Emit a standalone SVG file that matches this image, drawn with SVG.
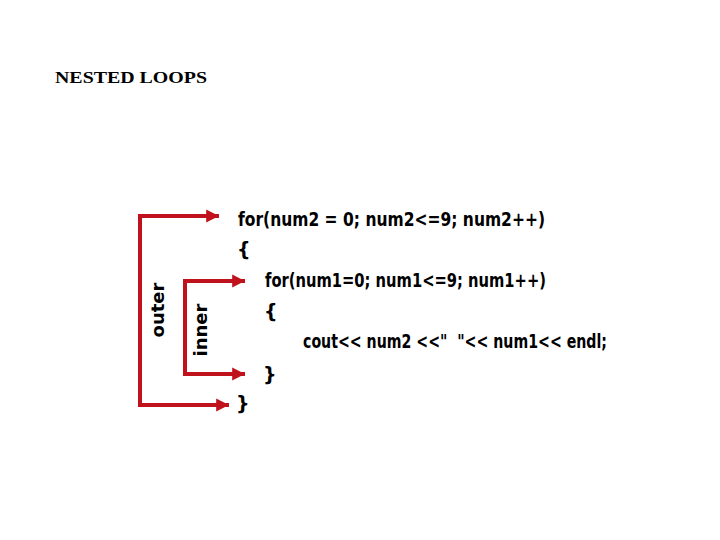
<svg xmlns="http://www.w3.org/2000/svg" width="720" height="540" viewBox="0 0 720 540">
<style>
.code{font-family:"DejaVu Sans","Liberation Sans",sans-serif;font-weight:bold;font-size:19px;fill:#000}
.lbl{font-family:"DejaVu Sans","Liberation Sans",sans-serif;font-weight:bold;font-size:18px;fill:#000}
.title{font-family:"Liberation Serif","Times New Roman",serif;font-weight:bold;font-size:17px;fill:#000}
.br{fill:none;stroke:#c0121c;stroke-width:4}
</style>
<defs>
<marker id="ah" viewBox="0 0 10 10" refX="10" refY="5" markerWidth="3.2" markerHeight="4" markerUnits="strokeWidth" orient="auto-start-reverse">
<path d="M0,0 L10,5 L0,10 z" fill="#c0121c"/>
</marker>
</defs>
<rect width="720" height="540" fill="#fff"/>
<text class="title" x="55" y="83" textLength="152" lengthAdjust="spacingAndGlyphs">NESTED LOOPS</text>
<g id="connectors">
<path id="outer-bracket" class="br" d="M219,216 H140 V405 H229" marker-start="url(#ah)" marker-end="url(#ah)"/>
<path id="inner-bracket" class="br" d="M245,281 H185 V374 H245" marker-start="url(#ah)" marker-end="url(#ah)"/>
</g>
<g id="label-outer"><text class="lbl" transform="translate(164,310) rotate(-90)" text-anchor="middle">outer</text></g>
<g id="label-inner"><text class="lbl" transform="translate(207,330) rotate(-90)" text-anchor="middle">inner</text></g>
<g id="code">
<text class="code" x="238" y="226" textLength="307" lengthAdjust="spacingAndGlyphs">for(num2 = 0; num2&lt;=9; num2++)</text>
<text class="code" x="237" y="256">{</text>
<text class="code" x="265" y="287" textLength="281" lengthAdjust="spacingAndGlyphs">for(num1=0; num1&lt;=9; num1++)</text>
<text class="code" x="264" y="318">{</text>
<text class="code" x="303" y="348" xml:space="preserve" textLength="304" lengthAdjust="spacingAndGlyphs">cout&lt;&lt; num2 &lt;&lt;"  "&lt;&lt; num1&lt;&lt; endl;</text>
<text class="code" x="263" y="381">}</text>
<text class="code" x="236" y="410">}</text>
</g>
</svg>
